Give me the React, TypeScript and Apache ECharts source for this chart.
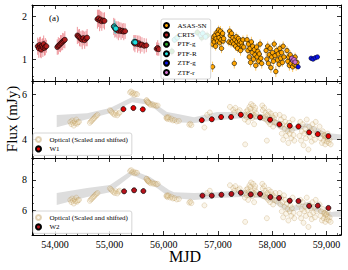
import React, { useEffect, useRef } from 'react';
import * as echarts from 'echarts';

const FONT = '"Liberation Serif", "Times New Roman", serif';

const X_MIN = 53575;
const X_MAX = 59265;

// y ranges per panel: [min, max, major interval, minor splits]
const Y_RANGES: number[][] = [
  [0.49, 2.26, 1, 5],
  [3.16, 6.58, 2, 4],
  [4.42, 9.43, 2, 4],
];

// Optical light curve: [MJD, flux (mJy), error]
const crts: number[][] = [
  [53680, 1.3, 0.2], [53700, 1.25, 0.22], [53715, 1.33, 0.18], [53730, 1.28, 0.24], [53745, 1.22, 0.2],
  [53760, 1.31, 0.16], [53775, 1.27, 0.22], [53790, 1.35, 0.2], [53805, 1.26, 0.18], [53820, 1.29, 0.2], [53840, 1.3, 0.15],
  [54040, 1.28, 0.18], [54060, 1.31, 0.2], [54080, 1.33, 0.16], [54100, 1.36, 0.2], [54120, 1.38, 0.18],
  [54140, 1.41, 0.2], [54160, 1.43, 0.17], [54180, 1.45, 0.2],
  [54410, 1.55, 0.2], [54430, 1.53, 0.16], [54450, 1.5, 0.2], [54475, 1.47, 0.18], [54500, 1.45, 0.22],
  [54520, 1.49, 0.17], [54545, 1.44, 0.2], [54570, 1.48, 0.18], [54590, 1.5, 0.2],
  [54780, 1.93, 0.22], [54800, 1.95, 0.2], [54820, 1.9, 0.25], [54840, 1.92, 0.2], [54860, 1.88, 0.22],
  [54885, 1.9, 0.18], [54910, 1.89, 0.2],
  [55080, 1.76, 0.2], [55100, 1.72, 0.22], [55120, 1.7, 0.18], [55140, 1.68, 0.2], [55165, 1.66, 0.22],
  [55190, 1.68, 0.18], [55215, 1.65, 0.2], [55240, 1.66, 0.17], [55265, 1.64, 0.2], [55290, 1.65, 0.18],
  [55450, 1.38, 0.18], [55470, 1.36, 0.2], [55490, 1.4, 0.16], [55520, 1.35, 0.2], [55545, 1.37, 0.18],
  [55570, 1.33, 0.2], [55600, 1.34, 0.17], [55640, 1.31, 0.18], [55680, 1.32, 0.16],
  [55870, 1.24, 0.15], [55890, 1.26, 0.18], [55910, 1.23, 0.15],
];

const ptfR: number[][] = [
  [55090, 1.76, 0.15], [55105, 1.73, 0.14], [55120, 1.71, 0.12], [55455, 1.4, 0.1], [55475, 1.39, 0.1],
  [56200, 1.45, 0.08], [56250, 1.5, 0.1], [56680, 1.56, 0.08], [56720, 1.6, 0.1], [56770, 1.52, 0.08],
];

const ptfG: number[][] = [
  [56150, 1.18, 0.1], [56620, 1.62, 0.1], [56700, 1.5, 0.1], [56800, 1.55, 0.1],
];

const asassn: number[][] = [
  [56895, 1.35, 0.1], [56900, 0.82, 0.12], [56910, 1.45, 0.1], [56920, 1.52, 0.12], [56930, 1.4, 0.09],
  [56945, 1.55, 0.11], [56955, 1.3, 0.1], [56965, 1.48, 0.12], [56980, 1.62, 0.1], [56990, 1.42, 0.09],
  [57000, 1.58, 0.12], [57010, 1.68, 0.1], [57020, 1.5, 0.11], [57030, 1.38, 0.1], [57045, 1.65, 0.12],
  [57055, 1.45, 0.09], [57065, 1.25, 0.11], [57075, 1.55, 0.1], [57085, 1.6, 0.12], [57095, 1.42, 0.1], [57105, 1.48, 0.09],
  [57200, 1.4, 0.1], [57215, 1.65, 0.12], [57225, 1.55, 0.1], [57240, 1.38, 0.11], [57250, 1.6, 0.1],
  [57265, 1.42, 0.12], [57275, 1.5, 0.1], [57290, 1.35, 0.09], [57300, 0.9, 0.12], [57310, 1.45, 0.1],
  [57325, 1.3, 0.11], [57335, 1.52, 0.1], [57350, 1.4, 0.12], [57360, 1.25, 0.1], [57375, 1.48, 0.09],
  [57390, 1.35, 0.11], [57400, 1.42, 0.1], [57415, 1.2, 0.12], [57430, 1.38, 0.1], [57445, 1.3, 0.11],
  [57460, 1.45, 0.1], [57475, 1.28, 0.09],
  [57535, 1.45, 0.12], [57550, 1.2, 0.1], [57560, 1.35, 0.11], [57575, 1.05, 0.12], [57590, 1.25, 0.1],
  [57600, 0.92, 0.11], [57615, 1.4, 0.12], [57630, 1.15, 0.1], [57640, 1.3, 0.11], [57655, 1.0, 0.12],
  [57670, 1.22, 0.1], [57680, 1.1, 0.11], [57695, 0.85, 0.12], [57710, 1.28, 0.1], [57720, 1.05, 0.11],
  [57735, 1.18, 0.1], [57750, 0.95, 0.12], [57760, 1.12, 0.1], [57775, 1.35, 0.11], [57790, 1.02, 0.1], [57805, 0.9, 0.12],
  [57885, 1.2, 0.12], [57900, 1.0, 0.1], [57915, 1.3, 0.11], [57930, 0.9, 0.12], [57945, 1.1, 0.1],
  [57960, 1.25, 0.11], [57975, 0.8, 0.12], [57990, 1.05, 0.1], [58005, 1.15, 0.11], [58020, 0.95, 0.12],
  [58035, 1.35, 0.1], [58050, 1.08, 0.11], [58065, 0.71, 0.13], [58080, 1.2, 0.1], [58095, 0.98, 0.11],
  [58110, 1.12, 0.12], [58125, 0.88, 0.1], [58140, 1.25, 0.11], [58155, 1.02, 0.1], [58170, 1.15, 0.12],
  [58185, 0.92, 0.1], [58200, 1.3, 0.11], [58215, 1.05, 0.1],
  [58270, 1.2, 0.1], [58285, 0.95, 0.11], [58300, 1.05, 0.1], [58315, 0.85, 0.12], [58330, 1.1, 0.1],
  [58345, 0.9, 0.11], [58360, 1.0, 0.1], [58375, 0.82, 0.12], [58390, 0.98, 0.1], [58405, 0.88, 0.11],
  [58420, 1.05, 0.1], [58440, 0.85, 0.12], [58455, 0.92, 0.1],
];

const ztfG: number[][] = [
  [58475, 0.82, 0.02], [58715, 1.02, 0.02], [58750, 1.0, 0.02], [58790, 1.03, 0.02], [58830, 1.05, 0.02],
];

const ztfR: number[][] = [
  [58360, 1.02, 0.02], [58380, 0.96, 0.02], [58400, 0.99, 0.02], [58420, 0.93, 0.02],
];

// WISE light curves: [MJD, flux (mJy)]
const w1: number[][] = [
  [55258, 5.33], [55442, 5.38], [55615, 5.32], [56702, 4.84], [56886, 4.88], [57057, 4.98], [57241, 4.98],
  [57420, 5.08], [57597, 5.02], [57775, 4.96], [57959, 4.86], [58131, 4.65], [58322, 4.59], [58481, 4.56],
  [58678, 4.3], [58838, 4.22], [59033, 4.13],
];

const w2: number[][] = [
  [55271, 7.26], [55455, 7.33], [55626, 7.28], [56713, 6.98], [56886, 6.98], [57063, 7.04], [57247, 7.09],
  [57420, 7.17], [57604, 7.06], [57775, 7.09], [57965, 6.89], [58125, 6.83], [58322, 6.65], [58481, 6.63],
  [58678, 6.31], [58838, 6.33], [59033, 6.18],
];

// Model bands (lower / upper edges)
const band1X = [54030, 54590, 55010, 55420, 55750, 56060, 56190, 56560, 56980, 57425, 57790, 58030, 58270, 58640, 59010, 59265];
const band1Lo = [4.53, 4.88, 5.15, 5.64, 5.51, 4.9, 4.75, 4.71, 4.84, 4.93, 4.84, 4.6, 4.27, 4.5, 3.96, 3.96];
const band1Hi = [5.07, 5.15, 5.38, 5.87, 5.73, 5.2, 5.15, 4.97, 5.2, 5.2, 5.1, 4.95, 4.5, 4.7, 4.27, 4.2];

const band2X = [54030, 54590, 55010, 55420, 55750, 56100, 56190, 56560, 56980, 57425, 57790, 58030, 58300, 58640, 59050, 59265];
const band2Lo = [6.37, 6.9, 7.2, 8.33, 7.8, 6.9, 6.83, 6.7, 6.83, 6.9, 6.83, 6.5, 5.9, 6.18, 5.6, 5.6];
const band2Hi = [7.15, 7.48, 7.67, 8.65, 8.2, 7.35, 7.2, 7.15, 7.2, 7.35, 7.2, 6.9, 6.24, 6.57, 5.9, 6.0];

// Optical scaled and shifted to the IR panels (as labelled in the figure)
const LAG_DAYS = 600;
const W1_SCALE = 2.08;
const W1_OFFSET = 2.06;
const W2_SCALE = 2.98;
const W2_OFFSET = 2.83;

const OPTICAL_NAME = 'Optical (Scaled and shifted)';

function scaledOptical(scale: number, offset: number): number[][] {
  const all = [...crts, ...ptfR, ...ptfG, ...asassn, ...ztfG, ...ztfR];
  return all.map((d) => [d[0] + LAG_DAYS, d[1] * scale + offset]);
}

function errSeries(name: string, data: number[][], color: string, opacity: number, xi: number, yi: number) {
  return {
    type: 'custom',
    name,
    xAxisIndex: xi,
    yAxisIndex: yi,
    silent: true,
    clip: true,
    z: 1,
    dimensions: ['x', 'y', 'e'],
    encode: { x: 0, y: 1 },
    data,
    renderItem: (params: any, api: any) => {
      const x = api.value(0);
      const y = api.value(1);
      const e = api.value(2);
      const p1 = api.coord([x, y - e]);
      const p2 = api.coord([x, y + e]);
      return {
        type: 'line',
        shape: { x1: p1[0], y1: p1[1], x2: p2[0], y2: p2[1] },
        style: { stroke: color, lineWidth: 1, opacity },
      };
    },
  };
}

function bandSeries(xs: number[], lo: number[], hi: number[], xi: number, yi: number) {
  return {
    type: 'custom',
    name: 'band',
    xAxisIndex: xi,
    yAxisIndex: yi,
    silent: true,
    clip: true,
    z: 0,
    data: [[xs[0], lo[0]]],
    renderItem: (params: any, api: any) => {
      const top = xs.map((x, i) => api.coord([x, hi[i]]));
      const bot = xs.map((x, i) => api.coord([x, lo[i]])).reverse();
      return {
        type: 'polygon',
        shape: { points: top.concat(bot) },
        style: { fill: '#dddddd', stroke: null },
      };
    },
  };
}

function scatter(name: string, data: number[][], color: string, size: number, xi: number, yi: number, border = '#000', bw = 0.6) {
  return {
    type: 'scatter',
    name,
    xAxisIndex: xi,
    yAxisIndex: yi,
    data: data.map((d) => [d[0], d[1]]),
    symbol: 'circle',
    symbolSize: size,
    clip: true,
    z: 2,
    itemStyle: { color, borderColor: border, borderWidth: bw, opacity: 1 },
  };
}

function xAxis(grid: number, position: string, labels: boolean) {
  return {
    type: 'value',
    gridIndex: grid,
    position,
    min: X_MIN,
    max: X_MAX,
    minInterval: 1000,
    maxInterval: 1000,
    axisLine: { show: true, onZero: false, lineStyle: { color: '#000', width: 1 } },
    axisTick: { show: true, inside: true, length: 4, lineStyle: { color: '#000', width: 0.8 } },
    minorTick: { show: true, splitNumber: 5, length: 2, lineStyle: { color: '#000', width: 0.6 } },
    splitLine: { show: false },
    minorSplitLine: { show: false },
    axisLabel: {
      show: labels,
      showMinLabel: false,
      showMaxLabel: false,
      margin: 4,
      fontFamily: FONT,
      fontSize: 10,
      color: '#000',
    },
  };
}

function yAxis(grid: number, position: string, labels: boolean) {
  const [min, max, iv, minor] = Y_RANGES[grid];
  return {
    type: 'value',
    gridIndex: grid,
    position,
    min,
    max,
    minInterval: iv,
    maxInterval: iv,
    axisLine: { show: true, onZero: false, lineStyle: { color: '#000', width: 1 } },
    axisTick: { show: true, inside: true, length: 4, lineStyle: { color: '#000', width: 0.8 } },
    minorTick: { show: true, splitNumber: minor, length: 2, lineStyle: { color: '#000', width: 0.6 } },
    splitLine: { show: false },
    minorSplitLine: { show: false },
    axisLabel: {
      show: labels,
      showMinLabel: false,
      showMaxLabel: false,
      margin: 5,
      fontFamily: FONT,
      fontSize: 10,
      color: '#000',
    },
  };
}

const legendCommon = {
  orient: 'vertical',
  itemWidth: 12,
  itemHeight: 5,
  itemGap: 2.4,
  padding: [3, 4, 3, 2],
  backgroundColor: 'rgba(255,255,255,0.85)',
  borderColor: '#cccccc',
  borderWidth: 0.8,
  borderRadius: 2,
  selectedMode: false,
  textStyle: { fontFamily: FONT, fontSize: 7, color: '#000' },
};

const OPT_FILL = 'rgba(236,214,170,0.25)';
const OPT_EDGE = 'rgba(176,136,64,0.35)';

function buildOption() {
  const opt1 = scaledOptical(W1_SCALE, W1_OFFSET);
  const opt2 = scaledOptical(W2_SCALE, W2_OFFSET);
  return {
    animation: false,
    backgroundColor: '#fff',
    grid: [
      { left: 32, right: 7, top: 5, height: 76 },
      { left: 32, right: 7, top: 81, height: 77 },
      { left: 32, right: 7, top: 158, height: 77 },
    ],
    xAxis: [
      xAxis(0, 'bottom', false), xAxis(0, 'top', false),
      xAxis(1, 'bottom', false), xAxis(1, 'top', false),
      xAxis(2, 'bottom', true), xAxis(2, 'top', false),
    ],
    yAxis: [
      yAxis(0, 'left', true), yAxis(0, 'right', false),
      yAxis(1, 'left', true), yAxis(1, 'right', false),
      yAxis(2, 'left', true), yAxis(2, 'right', false),
    ],
    legend: [
      {
        ...legendCommon,
        left: 161,
        top: 19,
        data: ['ASAS-SN', 'CRTS', 'PTF-g', 'PTF-R', 'ZTF-g', 'ZTF-r'],
      },
      {
        ...legendCommon,
        left: 33,
        top: 133,
        data: [OPTICAL_NAME, 'W1'],
      },
      {
        ...legendCommon,
        left: 33,
        top: 211,
        data: [OPTICAL_NAME, 'W2'],
      },
    ],
    graphic: [
      {
        type: 'text',
        x: 54,
        y: 18,
        style: { text: '(a)', font: `9px ${FONT}`, fill: '#000', textAlign: 'center', textVerticalAlign: 'middle' },
      },
      {
        type: 'text',
        x: 12,
        y: 119,
        rotation: Math.PI / 2,
        style: { text: 'Flux (mJy)', font: `15px ${FONT}`, fill: '#000', textAlign: 'center', textVerticalAlign: 'middle' },
      },
      {
        type: 'text',
        x: 185,
        y: 256,
        style: { text: 'MJD', font: `16px ${FONT}`, fill: '#000', textAlign: 'center', textVerticalAlign: 'middle' },
      },
    ],
    series: [
      // panel (a)
      errSeries('CRTS err', crts, '#e0404a', 0.55, 0, 0),
      errSeries('PTF-R err', ptfR, '#20e0e0', 0.6, 0, 0),
      errSeries('PTF-g err', ptfG, '#2ca02c', 0.4, 0, 0),
      errSeries('ASAS-SN err', asassn, '#ffb020', 0.7, 0, 0),
      scatter('CRTS', crts, '#b01e1e', 5, 0, 0),
      scatter('PTF-g', ptfG, '#2ca02c', 5, 0, 0),
      scatter('PTF-R', ptfR, '#22e0e0', 5, 0, 0),
      scatter('ASAS-SN', asassn, '#ffa500', 4.5, 0, 0),
      scatter('ZTF-g', ztfG, '#0a14e6', 4.5, 0, 0, '#000', 0.5),
      scatter('ZTF-r', ztfR, '#d070d0', 4.5, 0, 0, '#000', 0.5),
      // panel W1
      bandSeries(band1X, band1Lo, band1Hi, 2, 2),
      scatter(OPTICAL_NAME, opt1, OPT_FILL, 5, 2, 2, OPT_EDGE, 0.7),
      scatter('W1', w1, '#e00000', 5, 2, 2, '#000', 0.7),
      // panel W2
      bandSeries(band2X, band2Lo, band2Hi, 4, 4),
      scatter(OPTICAL_NAME, opt2, OPT_FILL, 5, 4, 4, OPT_EDGE, 0.7),
      scatter('W2', w2, '#b5121b', 5, 4, 4, '#000', 0.7),
    ],
  };
}

export default function App() {
  const ref = useRef<HTMLDivElement>(null);
  useEffect(() => {
    if (!ref.current) return;
    const chart = echarts.init(ref.current, null, { renderer: 'svg' });
    chart.setOption(buildOption() as any);
    return () => chart.dispose();
  }, []);
  return <div ref={ref} style={{ position: 'absolute', left: 0, top: 0, width: 348, height: 270 }} />;
}
